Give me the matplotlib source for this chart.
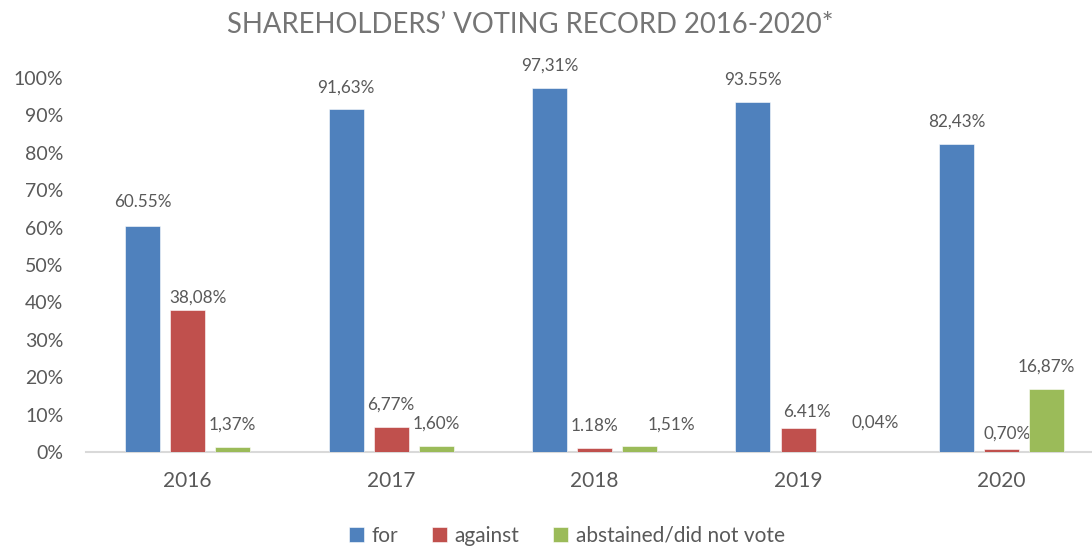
import numpy as np
import matplotlib
matplotlib.use("Agg")
from matplotlib import pyplot as plt

years = ["2016", "2017", "2018", "2019", "2020"]
series_names = ["for", "against", "abstained/did not vote"]
for_votes = [60.55, 91.63, 97.31, 93.55, 82.43]
against_votes = [38.08, 6.77, 1.18, 6.41, 0.70]
abstained_votes = [1.37, 1.60, 1.51, 0.04, 16.87]
for_labels = ["60.55%", "91,63%", "97,31%", "93.55%", "82,43%"]
against_labels = ["38,08%", "6,77%", "1.18%", "6.41%", "0,70%"]
abstained_labels = ["1,37%", "1,60%", "1,51%", "0,04%", "16,87%"]

colors = ["#4F81BD", "#C0504D", "#9BBB59"]
text_col = "#595959"

# label nudges in pixels (dx, dy above bar top), default (0, 22)
nudges = {
    (0, 0): (0, 24), (1, 0): (11, 12), (1, 3): (9, 16), (2, 3): (32, 29),
    (1, 4): (6, 16), (2, 2): (32, 22),
}

plt.rcParams["font.family"] = ["Lato", "DejaVu Sans"]

fig = plt.figure(figsize=(10.92, 5.47), dpi=100)
ax = fig.add_axes([85.75 / 1092, 95 / 547, 1017.5 / 1092, 374 / 547])

x = np.arange(len(years))
width = 35 / 203.5
step = 45 / 203.5
all_vals = [for_votes, against_votes, abstained_votes]
all_labels = [for_labels, against_labels, abstained_labels]

for i, (vals, labs) in enumerate(zip(all_vals, all_labels)):
    pos = x + (i - 1) * step
    ax.bar(pos, np.array(vals) / 100, width, color=colors[i], label=series_names[i],
           edgecolor="white", linewidth=0.4, zorder=3)
    for j, (p, v, lab) in enumerate(zip(pos, vals, labs)):
        dx, dy = nudges.get((i, j), (0, 22))
        ax.annotate(lab, (p, v / 100), xytext=(dx * 0.72, dy * 0.72),
                    textcoords="offset points", ha="center", va="center",
                    fontsize=12.3, color=text_col)

ax.set_xlim(-0.5, 4.5)
ax.set_ylim(0, 1.0)
ax.set_yticks(np.arange(0, 1.01, 0.1))
ax.set_yticklabels([f"{int(round(t * 100))}%" for t in np.arange(0, 1.01, 0.1)])
ax.set_xticks(x)
ax.set_xticklabels(years)
ax.tick_params(axis="y", length=0, pad=16, labelsize=14, labelcolor=text_col)
ax.tick_params(axis="x", length=0, pad=14, labelsize=15, labelcolor=text_col)
for s in ["left", "right", "top"]:
    ax.spines[s].set_visible(False)
ax.spines["bottom"].set_color("#D9D9D9")
ax.spines["bottom"].set_linewidth(1.5)

fig.text(530 / 1092, 1 - 25 / 547, "SHAREHOLDERS\u2019 VOTING RECORD 2016-2020*",
         ha="center", va="center", fontsize=19.8, color="#757575")

fig.legend(loc="center", bbox_to_anchor=(567 / 1092, 1 - 536 / 547), ncol=3,
           frameon=False, fontsize=15, handlelength=0.7, handleheight=0.7,
           handletextpad=0.4, columnspacing=1.6, labelcolor=text_col)

fig.savefig("out.png", dpi=100)
